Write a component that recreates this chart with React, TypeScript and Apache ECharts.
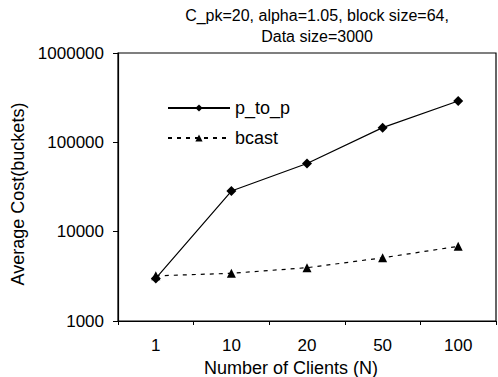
import React, { useEffect, useRef } from "react";
import * as echarts from "echarts";

const categories = ["1", "10", "20", "50", "100"];
const pToP = [3000, 28500, 58000, 146000, 290000];
const bcast = [3200, 3420, 3950, 5100, 6850];
const yTicks = [1000, 10000, 100000, 1000000];

export default function App() {
  const ref = useRef<HTMLDivElement>(null);
  useEffect(() => {
    if (!ref.current) return;
    const chart = echarts.init(ref.current, null, { renderer: "svg" });
    const font = "Arial, 'Liberation Sans', Helvetica, sans-serif";
    chart.setOption({
      animation: false,
      backgroundColor: "#fff",
      title: {
        text: "C_pk=20, alpha=1.05, block size=64,\nData size=3000",
        left: 312,
        top: 0,
        textAlign: "center",
        textStyle: { fontFamily: font, fontSize: 16, fontWeight: "normal", color: "#000", lineHeight: 21 },
      },
      legend: {
        orient: "vertical",
        left: 162,
        top: 93,
        itemWidth: 62,
        itemHeight: 9,
        itemGap: 10,
        textStyle: { fontFamily: font, fontSize: 18, color: "#000", lineHeight: 20 },
        data: [{ name: "p_to_p" }, { name: "bcast" }],
      },
      grid: {
        left: 118,
        right: 2,
        top: 53,
        bottom: 56,
        show: true,
        borderColor: "#000",
        borderWidth: 1.2,
        containLabel: false,
        outerBoundsMode: "none",
      },
      xAxis: {
        type: "category",
        data: categories,
        boundaryGap: true,
        name: "Number of Clients (N)",
        nameLocation: "middle",
        nameGap: 30,
        nameTextStyle: { fontFamily: font, fontSize: 18, color: "#000", padding: [0, 32, 0, 0] },
        axisLine: { lineStyle: { color: "#000", width: 1.2 } },
        axisTick: { show: true, alignWithLabel: false, length: 4, lineStyle: { color: "#000" } },
        axisLabel: { fontFamily: font, fontSize: 17, color: "#000", margin: 16 },
        splitLine: { show: false },
      },
      yAxis: {
        type: "log",
        logBase: 10,
        min: yTicks[0],
        max: yTicks[yTicks.length - 1],
        name: "Average Cost(buckets)",
        nameLocation: "middle",
        nameGap: 90,
        nameTextStyle: { fontFamily: font, fontSize: 18, color: "#000", padding: [0, 14, 0, 0] },
        axisLine: { show: true, lineStyle: { color: "#000", width: 1.2 } },
        axisTick: { show: true, length: 5, lineStyle: { color: "#000" } },
        axisLabel: {
          fontFamily: font,
          fontSize: 17,
          color: "#000",
          margin: 14,
          formatter: (v: number) => String(Math.round(v)),
        },
        splitLine: { show: false },
      },
      series: [
        {
          name: "p_to_p",
          type: "line",
          data: pToP,
          symbol: "diamond",
          symbolSize: 10,
          itemStyle: { color: "#000" },
          lineStyle: { color: "#000", width: 1.2, type: "solid" },
          z: 3,
        },
        {
          name: "bcast",
          type: "line",
          data: bcast,
          symbol: "triangle",
          symbolSize: 9,
          itemStyle: { color: "#000" },
          lineStyle: { color: "#000", width: 1.2, type: [4, 5] },
          z: 2,
        },
      ],
    });
    return () => chart.dispose();
  }, []);
  return <div ref={ref} style={{ width: 498, height: 377, position: "absolute", left: 0, top: 0 }} />;
}
